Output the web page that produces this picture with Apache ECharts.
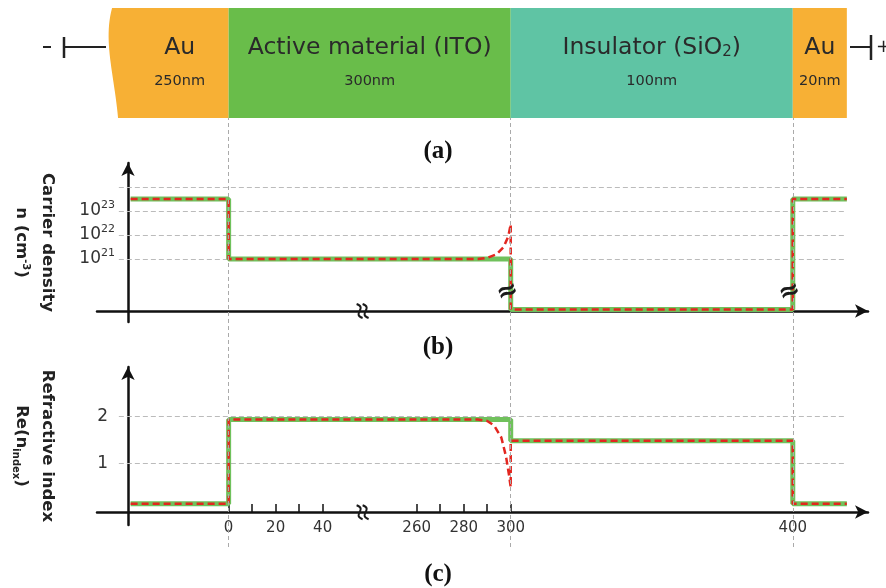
<!DOCTYPE html>
<html><head><meta charset="utf-8">
<script src="https://cdn.jsdelivr.net/npm/echarts@6/dist/echarts.min.js"></script>
<style>html,body{margin:0;padding:0;background:#fff}#c{width:886px;height:588px}</style>
</head><body><div id="c"></div>
<script>
// ---------------- data ----------------
// layer stack (nm): Au | ITO | SiO2 | Au
const layerNames = ['Au', 'Active material (ITO)', 'Insulator (SiO{sub|2})', 'Au'];
const layerThickness = ['250nm', '300nm', '100nm', '20nm'];
const layerBounds = [-250, 0, 300, 400, 420];      // nm
const leftBlockStart = -305;                       // drawn start of left Au block (nm)
// panel (b): log10 carrier density (cm^-3) per layer (SiO2 ~ 0, drawn on broken baseline)
const carrierExp = [23.5, 21.0, 18.9, 23.5];
// accumulation near ITO/SiO2 interface (red dashed)
const accumNm  = [286, 290, 294, 297, 299, 300];
const accumExp = [21.0, 21.05, 21.2, 21.5, 21.95, 22.45];
// panel (c): Re(n) per layer
const nIndex = [0.15, 1.93, 1.48, 0.15];
const depletionNm = [286, 290, 293, 296, 298, 299.3, 300];
const depletionN  = [1.93, 1.9, 1.8, 1.55, 1.15, 0.75, 0.5];
// ticks / labels
const xTickNm  = [0, 10, 20, 30, 40, 260, 270, 280, 290, 300];
const xLabelNm = [0, 20, 40, 260, 280, 300, 400];
const carrierLabels = [21, 22, 23];
const carrierGrid   = [21, 22, 23, 24];
const nLabels = [1, 2];
const nGrid   = [1, 2];
const guideNm = [0, 300, 400];
const gridSpanNm = [-280, 420];
// axis-break marks: [nm, value, kind]  kind 0 = on step, 1 = on x axis
const carrierBreaks = [[300, 19.62, 0], [400, 19.62, 0], [120, 18.833, 1]];
const nBreaks = [[120, -0.03, 1]];

// ---------------- broken x scale (nm -> display units) ----------------
function xd(nm) {
  if (nm <= 0) return nm * 0.1668;
  if (nm <= 50) return nm;
  if (nm <= 250) return 50 + (nm - 50) * 0.1;
  if (nm <= 300) return 70 + (nm - 250);
  if (nm <= 400) return 120 + (nm - 300) * 1.2;
  return 240 + (nm - 400) * 1.15;
}
const XMIN = -56, XMAX = 272;
const FONT = 'DejaVu Sans';
const layerColors = ['#f7b035', '#69bd4a', '#5fc4a4', '#f7b035'];
const GREEN = '#70c15c', RED = '#e3261f';

function stepPoints(vals) {
  const pts = [];
  for (let i = 0; i < vals.length; i++) {
    pts.push([xd(layerBounds[i]), vals[i]]);
    pts.push([xd(layerBounds[i + 1]), vals[i]]);
  }
  return pts;
}
function withInterface(vals, nmArr, vArr) {
  const pts = [];
  pts.push([xd(layerBounds[0]), vals[0]], [xd(layerBounds[1]), vals[0]]);
  pts.push([xd(layerBounds[1]), vals[1]]);
  for (let i = 0; i < nmArr.length; i++) pts.push([xd(nmArr[i]), vArr[i]]);
  for (let i = 2; i < vals.length; i++) {
    pts.push([xd(layerBounds[i]), vals[i]], [xd(layerBounds[i + 1]), vals[i]]);
  }
  return pts;
}
function gridLines(vals) {
  return vals.map(v => [{coord: [xd(gridSpanNm[0]), v]}, {coord: [xd(gridSpanNm[1]), v]}]);
}
const labelMap = {};
xLabelNm.forEach(n => { labelMap[xd(n).toFixed(4)] = String(n); });

function sStroke(x, y) {
  return {type: 'bezierCurve',
    shape: {x1: x + 3, y1: y + 7, x2: x - 3, y2: y - 7, cpx1: x - 8, cpy1: y + 3, cpx2: x + 8, cpy2: y - 3},
    style: {stroke: '#1a1a1a', lineWidth: 2, fill: null}};
}
function breakSeries(xi, yi, items) {
  return {
    type: 'custom', xAxisIndex: xi, yAxisIndex: yi, z: 6, silent: true, clip: false,
    data: items.map(b => [xd(b[0]), b[1], b[2]]),
    renderItem: (params, api) => {
      const p = api.coord([api.value(0), api.value(1)]);
      const k = api.value(2);
      if (k) {
        return {type: 'group', children: [sStroke(p[0] - 3, p[1]), sStroke(p[0] + 3, p[1])]};
      }
      return {
        type: 'text', x: p[0] - 3, y: p[1], rotation: 0.35,
        style: {text: '≈', fill: '#1a1a1a', fontSize: 26, fontWeight: 'bold', fontFamily: FONT, align: 'center', verticalAlign: 'middle'}
      };
    }
  };
}

const axisLineStyle = {color: '#111', width: 2.5};
const hiddenAxis = (gi, min, max) => ({gridIndex: gi, min: min, max: max, show: false});
const titleStyle = {fontFamily: 'Liberation Serif', fontWeight: 'bold', fontSize: 25, color: '#111'};

const option = {
  animation: false,
  backgroundColor: '#fff',
  title: [
    {text: '(a)', left: 433, top: 134, textAlign: 'center', textStyle: titleStyle},
    {text: '(b)', left: 433, top: 330, textAlign: 'center', textStyle: titleStyle},
    {text: '(c)', left: 433, top: 557, textAlign: 'center', textStyle: titleStyle}
  ],
  grid: [
    {left: 97, right: 18, top: 8, height: 110, outerBoundsMode: 'none'},
    {left: 97, right: 18, top: 163, height: 159, outerBoundsMode: 'none'},
    {left: 97, right: 18, top: 367, height: 158, outerBoundsMode: 'none'},
    {left: 97, right: 18, top: 118, bottom: 41, outerBoundsMode: 'none'}
  ],
  xAxis: [
    hiddenAxis(0, XMIN, XMAX),
    {gridIndex: 1, type: 'value', min: XMIN, max: XMAX, offset: -11,
     axisLine: {show: true, onZero: false, lineStyle: axisLineStyle, symbol: ['none', 'arrow'], symbolSize: [10, 13]},
     axisTick: {show: false}, axisLabel: {show: false}, splitLine: {show: false}},
    {gridIndex: 2, type: 'value', min: XMIN, max: XMAX, offset: -13,
     axisLine: {show: true, onZero: false, lineStyle: axisLineStyle, symbol: ['none', 'arrow'], symbolSize: [10, 13]},
     axisTick: {show: true, inside: true, length: 8, lineStyle: {color: '#111', width: 1.5}, customValues: xTickNm.map(xd)},
     axisLabel: {show: true, margin: 9, color: '#333', fontFamily: FONT, fontSize: 15,
                 customValues: xLabelNm.map(xd), formatter: v => labelMap[Number(v).toFixed(4)] || ''},
     splitLine: {show: false}},
    hiddenAxis(3, XMIN, XMAX)
  ],
  yAxis: [
    hiddenAxis(0, 0, 1),
    {gridIndex: 1, type: 'value', min: 18.375, max: 25, offset: -31,
     name: 'Carrier density\nn (cm{sup|-3})', nameLocation: 'middle', nameRotate: -90, nameGap: 68,
     nameTextStyle: {fontFamily: FONT, fontWeight: 'bold', fontSize: 16.5, color: '#222', lineHeight: 26,
                     rich: {sup: {fontSize: 10, fontWeight: 'bold', fontFamily: FONT, color: '#222', verticalAlign: 'top', padding: [3, 0, 0, 0]}}},
     axisLine: {show: true, onZero: false, lineStyle: axisLineStyle, symbol: ['none', 'arrow'], symbolSize: [10, 13]},
     axisTick: {show: false}, splitLine: {show: false},
     axisLabel: {show: true, margin: 13, customValues: carrierLabels, color: '#333',
                 formatter: v => '{b|10}{s|' + v + '}',
                 rich: {b: {fontFamily: FONT, fontSize: 17, color: '#333', lineHeight: 22},
                        s: {fontFamily: FONT, fontSize: 11, color: '#333', verticalAlign: 'top', lineHeight: 14}}}},
    {gridIndex: 2, type: 'value', min: -0.3, max: 3.04, offset: -31,
     name: 'Refractive index\nRe(n{sub|index})', nameLocation: 'middle', nameRotate: -90, nameGap: 68,
     nameTextStyle: {fontFamily: FONT, fontWeight: 'bold', fontSize: 16.5, color: '#222', lineHeight: 26,
                     rich: {sub: {fontSize: 10, fontWeight: 'bold', fontFamily: FONT, color: '#222', verticalAlign: 'bottom', padding: [0, 0, 3, 0]}}},
     axisLine: {show: true, onZero: false, lineStyle: axisLineStyle, symbol: ['none', 'arrow'], symbolSize: [10, 13]},
     axisTick: {show: false}, splitLine: {show: false},
     axisLabel: {show: true, margin: 20, customValues: nLabels, color: '#333', fontFamily: FONT, fontSize: 17}},
    hiddenAxis(3, 0, 1)
  ],
  graphic: [
    // electrode symbols
    {type: 'line', shape: {x1: 43, y1: 47, x2: 51, y2: 47}, style: {stroke: '#222', lineWidth: 2}},
    {type: 'line', shape: {x1: 64, y1: 37, x2: 64, y2: 58}, style: {stroke: '#222', lineWidth: 2.5}},
    {type: 'line', shape: {x1: 64, y1: 47, x2: 106, y2: 47}, style: {stroke: '#222', lineWidth: 2}},
    {type: 'line', shape: {x1: 850, y1: 47, x2: 870, y2: 47}, style: {stroke: '#222', lineWidth: 2}},
    {type: 'line', shape: {x1: 871, y1: 35, x2: 871, y2: 60}, style: {stroke: '#222', lineWidth: 2.5}},
    {type: 'text', x: 876, y: 47, style: {text: '+', fill: '#222', fontSize: 18, fontFamily: FONT, verticalAlign: 'middle'}}
  ],
  series: [
    // (a) layer stack
    {
      type: 'custom', xAxisIndex: 0, yAxisIndex: 0, silent: true, z: 2,
      data: layerNames.map((n, i) => [xd(i === 0 ? leftBlockStart : layerBounds[i]), xd(layerBounds[i + 1]), xd((layerBounds[i] + layerBounds[i + 1]) / 2)]),
      renderItem: (params, api) => {
        const i = params.dataIndex;
        const p0 = api.coord([api.value(0), 1]);
        const p1 = api.coord([api.value(1), 0]);
        const cx = api.coord([api.value(2), 0])[0];
        const top = p0[1], bot = p1[1], h = bot - top;
        let shape;
        if (i === 0) {
          const x0 = p0[0];
          const pts = [[p1[0], top], [p1[0], bot]];
          // curved left edge (bottom -> top)
          const P0 = [x0 + 9, bot], P1 = [x0 + 5, top + 0.6 * h], P2 = [x0 - 6, top + 0.3 * h], P3 = [x0 + 3, top];
          for (let k = 0; k <= 24; k++) {
            const t = k / 24, u = 1 - t;
            pts.push([u*u*u*P0[0] + 3*u*u*t*P1[0] + 3*u*t*t*P2[0] + t*t*t*P3[0],
                      u*u*u*P0[1] + 3*u*u*t*P1[1] + 3*u*t*t*P2[1] + t*t*t*P3[1]]);
          }
          shape = {type: 'polygon', shape: {points: pts}, style: {fill: layerColors[i]}};
        } else {
          shape = {type: 'rect', shape: {x: p0[0], y: top, width: p1[0] - p0[0], height: h}, style: {fill: layerColors[i]}};
        }
        return {type: 'group', children: [
          shape,
          {type: 'text', x: cx, y: top + 0.36 * h, style: {text: layerNames[i], fill: '#2a2a2a', fontFamily: FONT, fontSize: 23.5, align: 'center', verticalAlign: 'middle',
            rich: {sub: {fontFamily: FONT, fontSize: 15, fill: '#2a2a2a', verticalAlign: 'bottom', padding: [10, 0, 0, 0]}}}},
          {type: 'text', x: cx, y: top + 0.67 * h, style: {text: layerThickness[i], fill: '#2a2a2a', fontFamily: FONT, fontSize: 14.5, align: 'center', verticalAlign: 'middle'}}
        ]};
      }
    },
    // vertical guides through all panels
    {
      type: 'line', xAxisIndex: 3, yAxisIndex: 3, data: [], z: 1, silent: true,
      markLine: {silent: true, symbol: ['none', 'none'], label: {show: false}, animation: false,
        lineStyle: {color: '#aaa', type: [4, 3], width: 1},
        data: guideNm.map(n => ({xAxis: xd(n)}))}
    },
    // (b) ideal (green)
    {
      type: 'line', xAxisIndex: 1, yAxisIndex: 1, data: stepPoints(carrierExp), showSymbol: false, z: 3, clip: false,
      lineStyle: {color: GREEN, width: 5}, silent: true,
      markLine: {silent: true, symbol: ['none', 'none'], label: {show: false}, animation: false, z: 1,
        lineStyle: {color: '#bbb', type: [5, 3], width: 1}, data: gridLines(carrierGrid)}
    },
    // (b) with accumulation (red dashed)
    {
      type: 'line', xAxisIndex: 1, yAxisIndex: 1, data: withInterface(carrierExp, accumNm, accumExp), showSymbol: false, z: 4, clip: false,
      lineStyle: {color: RED, width: 2.5, type: [7, 4]}, silent: true
    },
    breakSeries(1, 1, carrierBreaks),
    // (c) ideal (green)
    {
      type: 'line', xAxisIndex: 2, yAxisIndex: 2, data: stepPoints(nIndex), showSymbol: false, z: 3, clip: false,
      lineStyle: {color: GREEN, width: 5}, silent: true,
      markLine: {silent: true, symbol: ['none', 'none'], label: {show: false}, animation: false, z: 1,
        lineStyle: {color: '#bbb', type: [5, 3], width: 1}, data: gridLines(nGrid)}
    },
    // (c) with depletion (red dashed)
    {
      type: 'line', xAxisIndex: 2, yAxisIndex: 2, data: withInterface(nIndex, depletionNm, depletionN), showSymbol: false, z: 4, clip: false,
      lineStyle: {color: RED, width: 2.5, type: [7, 4]}, silent: true
    },
    breakSeries(2, 2, nBreaks)
  ]
};
const chart = echarts.init(document.getElementById('c'), null, {renderer: 'canvas'});
chart.setOption(option);
</script>
</body></html>
